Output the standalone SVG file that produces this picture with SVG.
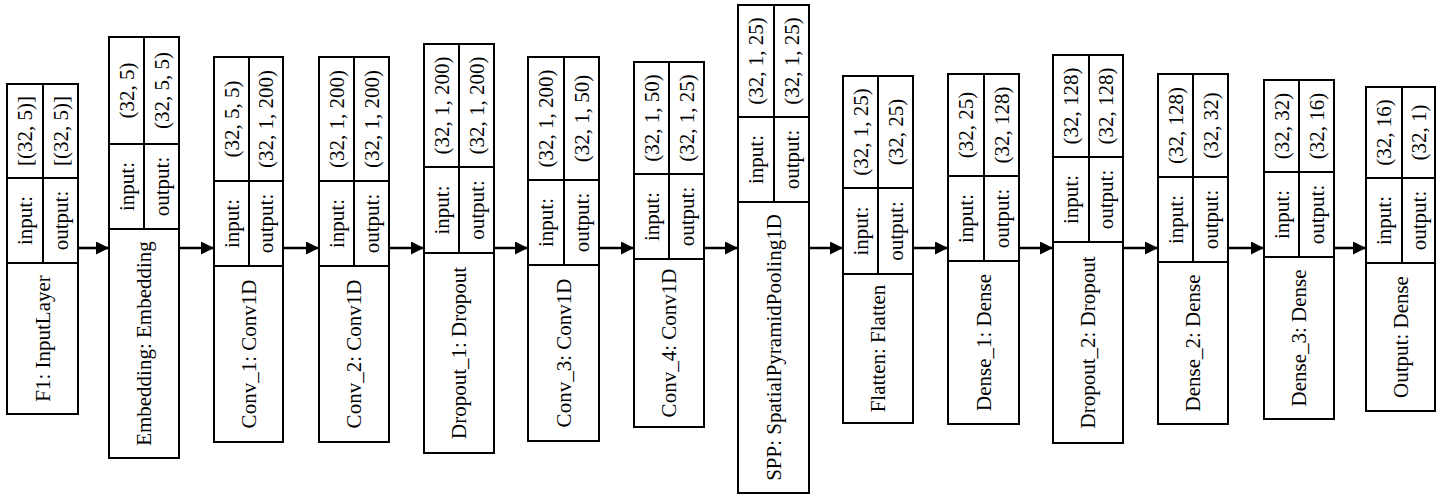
<svg xmlns="http://www.w3.org/2000/svg" width="1444" height="500" viewBox="0 0 1444 500">
<style>
.b{fill:#fff;stroke:#000;stroke-width:2}
.l{stroke:#000;stroke-width:2;fill:none}
.t{font-family:"Liberation Serif","Times New Roman",serif;font-size:21px;fill:#000;text-anchor:middle;dominant-baseline:central}
.e{stroke:#000;stroke-width:2.6;fill:none}
</style>
<defs>
<marker id="ah" viewBox="0 0 10 10" refX="10" refY="5" markerUnits="userSpaceOnUse" markerWidth="15" markerHeight="13" orient="auto">
<path d="M0,0 L10,5 L0,10 z" fill="#000"/>
</marker>
</defs>
<rect width="1444" height="500" fill="#fff"/>
<g id="connectors">
<line class="e" x1="78" y1="248" x2="109" y2="248" marker-end="url(#ah)"/>
<line class="e" x1="179" y1="248" x2="214" y2="248" marker-end="url(#ah)"/>
<line class="e" x1="283" y1="248" x2="319" y2="248" marker-end="url(#ah)"/>
<line class="e" x1="389" y1="248" x2="424" y2="248" marker-end="url(#ah)"/>
<line class="e" x1="494" y1="248" x2="528" y2="248" marker-end="url(#ah)"/>
<line class="e" x1="599" y1="248" x2="634" y2="248" marker-end="url(#ah)"/>
<line class="e" x1="704" y1="248" x2="738" y2="248" marker-end="url(#ah)"/>
<line class="e" x1="809" y1="248" x2="843" y2="248" marker-end="url(#ah)"/>
<line class="e" x1="913" y1="248" x2="948" y2="248" marker-end="url(#ah)"/>
<line class="e" x1="1019" y1="248" x2="1053" y2="248" marker-end="url(#ah)"/>
<line class="e" x1="1123" y1="248" x2="1158" y2="248" marker-end="url(#ah)"/>
<line class="e" x1="1228" y1="248" x2="1264" y2="248" marker-end="url(#ah)"/>
<line class="e" x1="1334" y1="248" x2="1366" y2="248" marker-end="url(#ah)"/>
</g>
<g id="F1">
<rect class="b" x="7" y="84" width="71" height="330"/>
<path class="l" d="M7,178H78M7,263H78M43,84V263"/>
<text class="t" transform="translate(25,131) rotate(-90)">[(32, 5)]</text>
<text class="t" transform="translate(60.5,131) rotate(-90)">[(32, 5)]</text>
<text class="t" transform="translate(25,220.5) rotate(-90)">input:</text>
<text class="t" transform="translate(60.5,220.5) rotate(-90)">output:</text>
<text class="t" transform="translate(42.5,338.5) rotate(-90)">F1: InputLayer</text>
</g>
<g id="Embedding">
<rect class="b" x="109" y="37" width="70" height="421"/>
<path class="l" d="M109,144H179M109,229H179M144,37V229"/>
<text class="t" transform="translate(126.5,90.5) rotate(-90)">(32, 5)</text>
<text class="t" transform="translate(161.5,90.5) rotate(-90)">(32, 5, 5)</text>
<text class="t" transform="translate(126.5,186.5) rotate(-90)">input:</text>
<text class="t" transform="translate(161.5,186.5) rotate(-90)">output:</text>
<text class="t" transform="translate(144,343.5) rotate(-90)">Embedding: Embedding</text>
</g>
<g id="Conv_1">
<rect class="b" x="214" y="57" width="69" height="385"/>
<path class="l" d="M214,181H283M214,266H283M249,57V266"/>
<text class="t" transform="translate(231.5,119) rotate(-90)">(32, 5, 5)</text>
<text class="t" transform="translate(266,119) rotate(-90)">(32, 1, 200)</text>
<text class="t" transform="translate(231.5,223.5) rotate(-90)">input:</text>
<text class="t" transform="translate(266,223.5) rotate(-90)">output:</text>
<text class="t" transform="translate(248.5,354) rotate(-90)">Conv_1: Conv1D</text>
</g>
<g id="Conv_2">
<rect class="b" x="319" y="57" width="70" height="385"/>
<path class="l" d="M319,181H389M319,266H389M354,57V266"/>
<text class="t" transform="translate(336.5,119) rotate(-90)">(32, 1, 200)</text>
<text class="t" transform="translate(371.5,119) rotate(-90)">(32, 1, 200)</text>
<text class="t" transform="translate(336.5,223.5) rotate(-90)">input:</text>
<text class="t" transform="translate(371.5,223.5) rotate(-90)">output:</text>
<text class="t" transform="translate(354,354) rotate(-90)">Conv_2: Conv1D</text>
</g>
<g id="Dropout_1">
<rect class="b" x="424" y="44" width="70" height="409"/>
<path class="l" d="M424,167H494M424,253H494M459,44V253"/>
<text class="t" transform="translate(441.5,105.5) rotate(-90)">(32, 1, 200)</text>
<text class="t" transform="translate(476.5,105.5) rotate(-90)">(32, 1, 200)</text>
<text class="t" transform="translate(441.5,210) rotate(-90)">input:</text>
<text class="t" transform="translate(476.5,210) rotate(-90)">output:</text>
<text class="t" transform="translate(459,353) rotate(-90)">Dropout_1: Dropout</text>
</g>
<g id="Conv_3">
<rect class="b" x="528" y="57" width="71" height="384"/>
<path class="l" d="M528,180H599M528,265H599M564,57V265"/>
<text class="t" transform="translate(546,118.5) rotate(-90)">(32, 1, 200)</text>
<text class="t" transform="translate(581.5,118.5) rotate(-90)">(32, 1, 50)</text>
<text class="t" transform="translate(546,222.5) rotate(-90)">input:</text>
<text class="t" transform="translate(581.5,222.5) rotate(-90)">output:</text>
<text class="t" transform="translate(563.5,353) rotate(-90)">Conv_3: Conv1D</text>
</g>
<g id="Conv_4">
<rect class="b" x="634" y="62" width="70" height="365"/>
<path class="l" d="M634,174H704M634,259H704M669,62V259"/>
<text class="t" transform="translate(651.5,118) rotate(-90)">(32, 1, 50)</text>
<text class="t" transform="translate(686.5,118) rotate(-90)">(32, 1, 25)</text>
<text class="t" transform="translate(651.5,216.5) rotate(-90)">input:</text>
<text class="t" transform="translate(686.5,216.5) rotate(-90)">output:</text>
<text class="t" transform="translate(669,343) rotate(-90)">Conv_4: Conv1D</text>
</g>
<g id="SPP">
<rect class="b" x="738" y="5" width="71" height="488"/>
<path class="l" d="M738,117H809M738,202H809M774,5V202"/>
<text class="t" transform="translate(756,61) rotate(-90)">(32, 1, 25)</text>
<text class="t" transform="translate(791.5,61) rotate(-90)">(32, 1, 25)</text>
<text class="t" transform="translate(756,159.5) rotate(-90)">input:</text>
<text class="t" transform="translate(791.5,159.5) rotate(-90)">output:</text>
<text class="t" transform="translate(773.5,347.5) rotate(-90)">SPP: SpatialPyramidPooling1D</text>
</g>
<g id="Flatten">
<rect class="b" x="843" y="76" width="70" height="347"/>
<path class="l" d="M843,188H913M843,274H913M878,76V274"/>
<text class="t" transform="translate(860.5,132) rotate(-90)">(32, 1, 25)</text>
<text class="t" transform="translate(895.5,132) rotate(-90)">(32, 25)</text>
<text class="t" transform="translate(860.5,231) rotate(-90)">input:</text>
<text class="t" transform="translate(895.5,231) rotate(-90)">output:</text>
<text class="t" transform="translate(878,348.5) rotate(-90)">Flatten: Flatten</text>
</g>
<g id="Dense_1">
<rect class="b" x="948" y="74" width="71" height="350"/>
<path class="l" d="M948,176H1019M948,261H1019M984,74V261"/>
<text class="t" transform="translate(966,125) rotate(-90)">(32, 25)</text>
<text class="t" transform="translate(1001.5,125) rotate(-90)">(32, 128)</text>
<text class="t" transform="translate(966,218.5) rotate(-90)">input:</text>
<text class="t" transform="translate(1001.5,218.5) rotate(-90)">output:</text>
<text class="t" transform="translate(983.5,342.5) rotate(-90)">Dense_1: Dense</text>
</g>
<g id="Dropout_2">
<rect class="b" x="1053" y="55" width="70" height="388"/>
<path class="l" d="M1053,157H1123M1053,242H1123M1089,55V242"/>
<text class="t" transform="translate(1071,106) rotate(-90)">(32, 128)</text>
<text class="t" transform="translate(1106,106) rotate(-90)">(32, 128)</text>
<text class="t" transform="translate(1071,199.5) rotate(-90)">input:</text>
<text class="t" transform="translate(1106,199.5) rotate(-90)">output:</text>
<text class="t" transform="translate(1088,342.5) rotate(-90)">Dropout_2: Dropout</text>
</g>
<g id="Dense_2">
<rect class="b" x="1158" y="74" width="70" height="350"/>
<path class="l" d="M1158,177H1228M1158,262H1228M1193,74V262"/>
<text class="t" transform="translate(1175.5,125.5) rotate(-90)">(32, 128)</text>
<text class="t" transform="translate(1210.5,125.5) rotate(-90)">(32, 32)</text>
<text class="t" transform="translate(1175.5,219.5) rotate(-90)">input:</text>
<text class="t" transform="translate(1210.5,219.5) rotate(-90)">output:</text>
<text class="t" transform="translate(1193,343) rotate(-90)">Dense_2: Dense</text>
</g>
<g id="Dense_3">
<rect class="b" x="1264" y="80" width="70" height="339"/>
<path class="l" d="M1264,172H1334M1264,257H1334M1299,80V257"/>
<text class="t" transform="translate(1281.5,126) rotate(-90)">(32, 32)</text>
<text class="t" transform="translate(1316.5,126) rotate(-90)">(32, 16)</text>
<text class="t" transform="translate(1281.5,214.5) rotate(-90)">input:</text>
<text class="t" transform="translate(1316.5,214.5) rotate(-90)">output:</text>
<text class="t" transform="translate(1299,338) rotate(-90)">Dense_3: Dense</text>
</g>
<g id="Output">
<rect class="b" x="1366" y="87" width="69" height="324"/>
<path class="l" d="M1366,178H1435M1366,263H1435M1402,87V263"/>
<text class="t" transform="translate(1384,132.5) rotate(-90)">(32, 16)</text>
<text class="t" transform="translate(1418.5,132.5) rotate(-90)">(32, 1)</text>
<text class="t" transform="translate(1384,220.5) rotate(-90)">input:</text>
<text class="t" transform="translate(1418.5,220.5) rotate(-90)">output:</text>
<text class="t" transform="translate(1400.5,337) rotate(-90)">Output: Dense</text>
</g>
</svg>
